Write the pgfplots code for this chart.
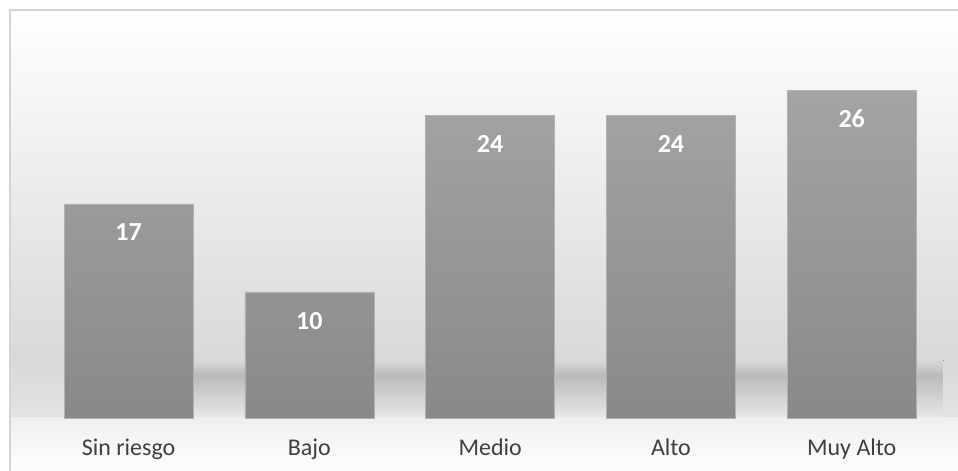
\documentclass[border=0pt]{standalone}
\usepackage{pgfplots}
\pgfplotsset{compat=1.18}
\usepackage{fontspec}
\setmainfont{Carlito}
\definecolor{barTop}{HTML}{A4A4A4}
\definecolor{barBot}{HTML}{898989}
\definecolor{frameC}{HTML}{D4D4D4}
\definecolor{labC}{HTML}{404040}
\begin{document}
\begin{tikzpicture}
\path[use as bounding box] (0,0) rectangle (718.5pt,353.25pt);
\begin{axis}[
  at={(7.5pt,-4pt)}, anchor=south west,
  scale only axis, width=714pt, height=349.75pt,
  xmin=-0.656, xmax=4.61, ymin=-4.63, ymax=32.38,
  axis on top,
  axis line style={draw=frameC, line width=0.8pt},
  xtick={0,1,2,3,4},
  xticklabels={Sin riesgo, Bajo, Medio, Alto, Muy Alto},
  major tick length=0pt, ytick=\empty,
  x tick label style={anchor=base, yshift=15.5pt, font=\fontsize{18}{21}\selectfont, text=labC},
  /pgf/number format/assume math mode=true,
  ybar, bar width=0.714,
  nodes near coords,
  every node near coord/.append style={anchor=center, yshift=-21.5pt, text=white, font=\fontsize{19.5}{22}\selectfont\bfseries},
  clip=true,
]
% background
\fill[top color=white, bottom color=black!15]
  (axis cs:-0.7,4.6) rectangle (axis cs:4.7,32.5);
\fill[top color=black!15, bottom color=black!11]
  (axis cs:-0.7,0) rectangle (axis cs:-0.357,4.6);
\fill[top color=black!15, bottom color=black!27]
  (axis cs:-0.357,3.4) rectangle (axis cs:4.507,4.6);
\fill[top color=black!27, bottom color=black!9]
  (axis cs:-0.357,0) rectangle (axis cs:4.507,3.4);
\fill[top color=black!15, bottom color=black!11]
  (axis cs:4.507,0) rectangle (axis cs:4.7,4.6);
\fill[top color=black!6, bottom color=white]
  (axis cs:-0.7,-4.7) rectangle (axis cs:4.7,0);
\addplot[draw=black!30, line width=0.4pt, top color=barTop, bottom color=barBot]
  coordinates {(0,17) (1,10) (2,24) (3,24) (4,26)};
\end{axis}
\end{tikzpicture}
\end{document}
